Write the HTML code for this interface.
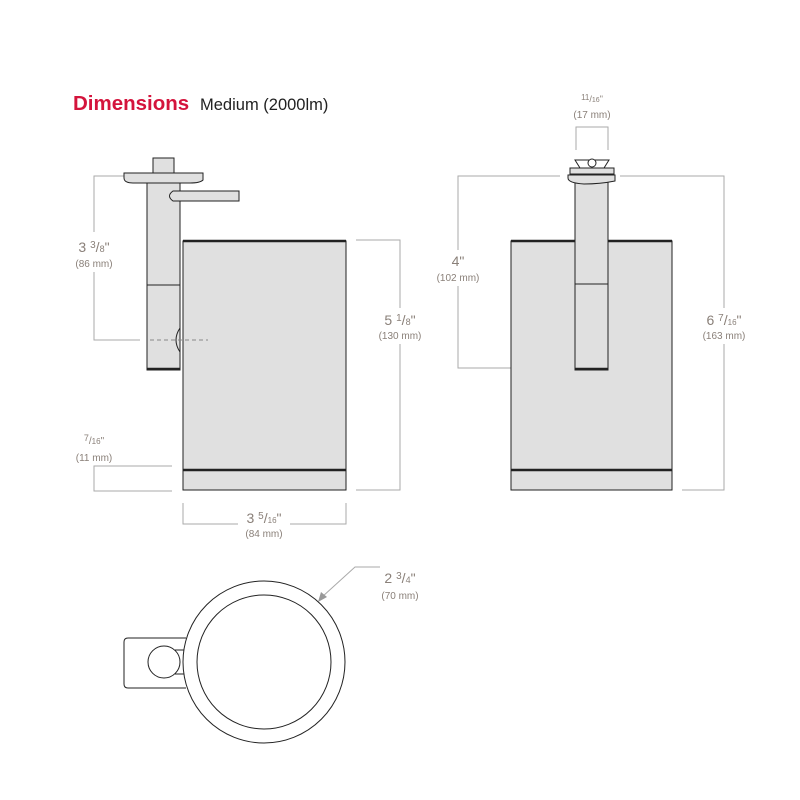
<!DOCTYPE html>
<html><head><style>body{margin:0;background:#fff}svg{display:block}</style></head><body>
<svg width="800" height="800" viewBox="0 0 800 800" xmlns="http://www.w3.org/2000/svg" font-family="Liberation Sans, sans-serif">
<rect width="800" height="800" fill="#fff"/>
<text x="73" y="110" font-size="20.5" font-weight="bold" fill="#d4143c">Dimensions</text>
<text x="200" y="110" font-size="16.5" fill="#222">Medium (2000lm)</text>

<g stroke="#aaa" stroke-width="1" fill="none">
<polyline points="140,176 94,176 94,340 140,340"/>
<polyline points="356,240 400,240 400,490 356,490"/>
<polyline points="172,466 94,466 94,491 172,491"/>
<polyline points="183,503 183,524 346,524 346,503"/>
<polyline points="560,176 458,176 458,368 566,368"/>
<polyline points="620,176 724,176 724,490 682,490"/>
<polyline points="576,150 576,127 608,127 608,150"/>
<polyline points="380,567 355,567 322,597"/>
</g>
<path d="M318,602 L321,592 L327,597 Z" fill="#999"/>

<g fill="#8a8079" text-anchor="middle">
<rect x="75" y="232" width="40" height="40" fill="#fff"/>
<text x="94" y="252" font-size="14">3 <tspan font-size="10" dy="-4">3</tspan><tspan dy="4">/</tspan><tspan font-size="9">8</tspan>"</text>
<text x="94" y="267" font-size="10">(86 mm)</text>
<rect x="376" y="308" width="50" height="36" fill="#fff"/>
<text x="400" y="325" font-size="14">5 <tspan font-size="10" dy="-4">1</tspan><tspan dy="4">/</tspan><tspan font-size="9">8</tspan>"</text>
<text x="400" y="339" font-size="10">(130 mm)</text>
<text x="94" y="444" font-size="10"><tspan font-size="9" dy="-3">7</tspan><tspan dy="3">/</tspan><tspan font-size="8">16</tspan>"</text>
<text x="94" y="461" font-size="10">(11 mm)</text>
<rect x="238" y="512" width="52" height="24" fill="#fff"/>
<text x="264" y="523" font-size="14">3 <tspan font-size="10" dy="-4">5</tspan><tspan dy="4">/</tspan><tspan font-size="8">16</tspan>"</text>
<text x="264" y="537" font-size="10">(84 mm)</text>
<rect x="432" y="250" width="50" height="36" fill="#fff"/>
<text x="458" y="266" font-size="14">4"</text>
<text x="458" y="281" font-size="10">(102 mm)</text>
<rect x="698" y="308" width="52" height="36" fill="#fff"/>
<text x="724" y="325" font-size="14">6 <tspan font-size="10" dy="-4">7</tspan><tspan dy="4">/</tspan><tspan font-size="8">16</tspan>"</text>
<text x="724" y="339" font-size="10">(163 mm)</text>
<text x="592" y="102" font-size="9"><tspan font-size="8" dy="-2">11</tspan><tspan dy="2">/</tspan><tspan font-size="7">16</tspan>"</text>
<text x="592" y="118" font-size="10">(17 mm)</text>
<text x="400" y="583" font-size="14">2 <tspan font-size="10" dy="-4">3</tspan><tspan dy="4">/</tspan><tspan font-size="9">4</tspan>"</text>
<text x="400" y="599" font-size="10">(70 mm)</text>
</g>

<g stroke="#222" stroke-width="1" fill="#e0e0e0">
<rect x="183" y="241" width="163" height="249"/>
<line x1="183" y1="241" x2="346" y2="241" stroke-width="2.5"/>
<line x1="183" y1="470" x2="346" y2="470" stroke-width="2.5"/>
<rect x="147" y="178" width="33" height="192"/>
<line x1="147" y1="285" x2="180" y2="285"/>
<line x1="147" y1="369" x2="180" y2="369" stroke-width="2.5"/>
<path d="M124,173 H203 V180 Q200,183 190,183 H133 Q124,183 124,178 Z"/>
<rect x="153" y="158" width="21" height="15"/>
<path d="M173,191 H239 V201 H173 Q166,196 173,191 Z"/>
<path d="M180,328 Q172,340 180,352 Z"/>
<line x1="150" y1="340" x2="208" y2="340" stroke="#888" stroke-dasharray="4,3"/>
<rect x="511" y="241" width="161" height="249"/>
<line x1="511" y1="241" x2="672" y2="241" stroke-width="2.5"/>
<line x1="511" y1="470" x2="672" y2="470" stroke-width="2.5"/>
<rect x="575" y="180" width="33" height="190"/>
<line x1="575" y1="284" x2="608" y2="284"/>
<line x1="575" y1="369" x2="608" y2="369" stroke-width="2.5"/>
<path d="M568,175 H615 V181 Q600,184 584,184 Q568,183 568,178 Z"/>
<path d="M570,168 H614 V174 H570 Z"/>
<path d="M575,160 H609 L604,168 H580 Z" fill="#fff"/>
<circle cx="592" cy="163" r="4" fill="#fff"/>
<path d="M186,638 H128 Q124,638 124,642 V684 Q124,688 128,688 H186" fill="none"/>
<line x1="175" y1="650" x2="186" y2="650"/>
<line x1="175" y1="674" x2="186" y2="674"/>
<circle cx="264" cy="662" r="81" fill="#fff"/>
<circle cx="264" cy="662" r="67" fill="#fff"/>
<circle cx="164" cy="662" r="16" fill="#fff"/>
</g>
</svg>
</body></html>
